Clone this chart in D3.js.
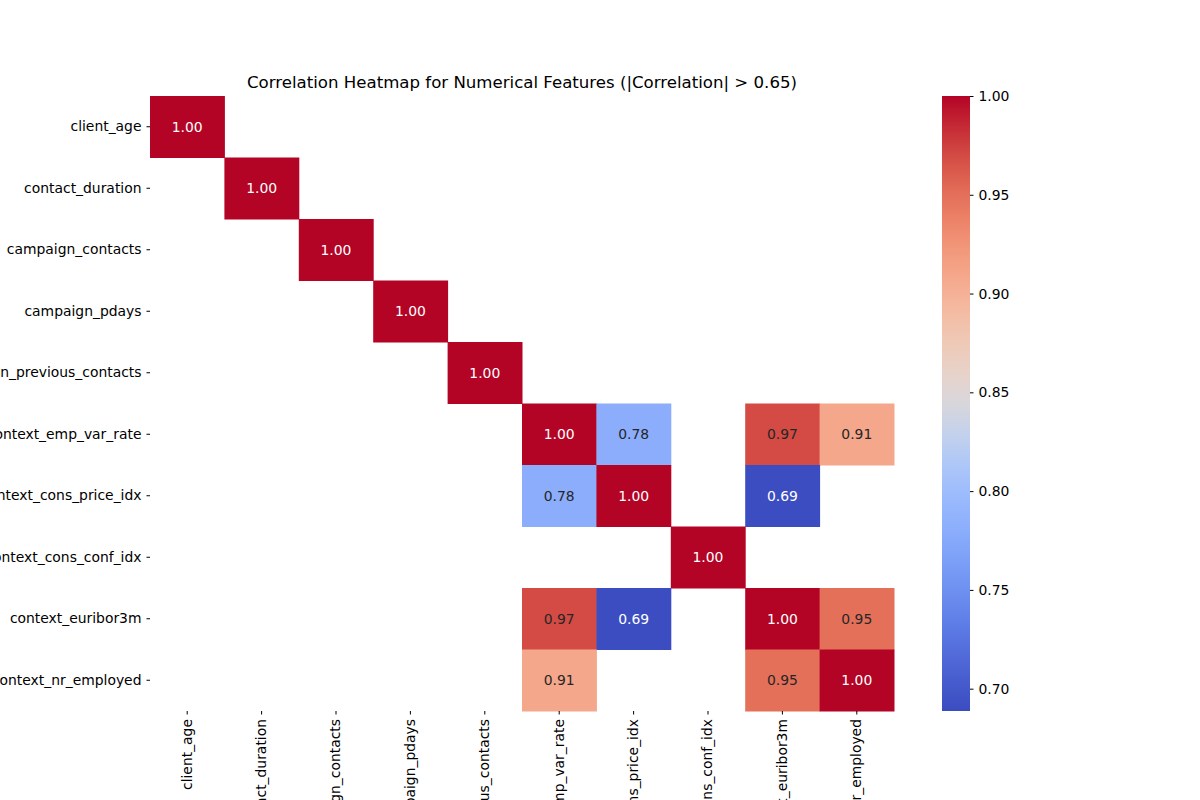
<!DOCTYPE html><html><head><meta charset="utf-8"><script src="https://cdn.jsdelivr.net/npm/d3@7"></script>
<style>body{margin:0;background:#fff}text{font-family:"DejaVu Sans",sans-serif}</style></head><body><svg id="c" width="1200" height="800"></svg>
<script>
const features=["client_age","contact_duration","campaign_contacts","campaign_pdays","campaign_previous_contacts","context_emp_var_rate","context_cons_price_idx","context_cons_conf_idx","context_euribor3m","context_nr_employed"];
// visible correlations [row, col, value] (|r|>0.65)
const cells=[[0,0,1.00],[1,1,1.00],[2,2,1.00],[3,3,1.00],[4,4,1.00],
[5,5,1.00],[5,6,0.78],[5,8,0.97],[5,9,0.91],
[6,5,0.78],[6,6,1.00],[6,8,0.69],
[7,7,1.00],
[8,5,0.97],[8,6,0.69],[8,8,1.00],[8,9,0.95],
[9,5,0.91],[9,8,0.95],[9,9,1.00]];
const cbTicks=[0.70,0.75,0.80,0.85,0.90,0.95,1.00];
const vmin=0.6887,vmax=1.0;
const coolwarm=d3.interpolateRgbBasis(["#3b4cc0","#536edd","#6f92f3","#8db0fe","#aac7fd","#dddcdc","#f2cbb7","#f7ac8e","#ee8468","#d65244","#b40426"]);
const color=v=>coolwarm((v-vmin)/(vmax-vmin));
const svg=d3.select("#c");
const L=150,R=894,T=96,B=711,FS=13.9;
const x=d3.scaleBand().domain(d3.range(10)).range([L,R]);
const y=d3.scaleBand().domain(d3.range(10)).range([T,B]);
svg.selectAll("rect.cell").data(cells).join("rect").attr("x",d=>x(d[1])).attr("y",d=>y(d[0])).attr("width",x.bandwidth()+0.5).attr("height",y.bandwidth()+0.5).attr("fill",d=>color(d[2]));
svg.selectAll("text.v").data(cells).join("text").attr("x",d=>x(d[1])+x.bandwidth()/2).attr("y",d=>y(d[0])+y.bandwidth()/2).attr("dy","0.35em").attr("text-anchor","middle").attr("font-size",FS).attr("fill",d=>{const c=d3.hsl(color(d[2]));return c.l<0.5?"#fff":"#262626"}).text(d=>d[2].toFixed(2));
const ya=svg.append("g").attr("transform",`translate(${L},0)`).call(d3.axisLeft(y).tickFormat(i=>features[i]).tickSize(3.5).tickPadding(5));
ya.select(".domain").remove();ya.selectAll("text").attr("font-size",FS).attr("fill","#000");
const xa=svg.append("g").attr("transform",`translate(0,${B})`).call(d3.axisBottom(x).tickFormat(i=>features[i]).tickSize(3.5).tickPadding(5));
xa.select(".domain").remove();
xa.selectAll("text").attr("font-size",FS).attr("fill","#000").attr("text-anchor","end").attr("transform","rotate(-90)")
 .attr("x",-8).attr("y",0).attr("dy","0.32em").attr("dx",null);
svg.append("text").attr("x",(L+R)/2).attr("y",88).attr("text-anchor","middle").attr("font-size",16.6).text("Correlation Heatmap for Numerical Features (|Correlation| > 0.65)");
// colorbar
const cx=942,cw=28;
const cy=d3.scaleLinear().domain([vmin,vmax]).range([B,T]);
const defs=svg.append("defs");const g=defs.append("linearGradient").attr("id","cb").attr("x1",0).attr("y1",1).attr("x2",0).attr("y2",0);
d3.range(0,1.001,0.05).forEach(t=>g.append("stop").attr("offset",t).attr("stop-color",coolwarm(t)));
svg.append("rect").attr("x",cx).attr("y",T).attr("width",cw).attr("height",B-T).attr("fill","url(#cb)");
const ca=svg.append("g").attr("transform",`translate(${cx+cw},0)`).call(d3.axisRight(cy).tickValues(cbTicks).tickFormat(d3.format(".2f")).tickSize(3.5).tickPadding(5));
ca.select(".domain").remove();ca.selectAll("text").attr("font-size",FS).attr("fill","#000");
</script></body></html>
